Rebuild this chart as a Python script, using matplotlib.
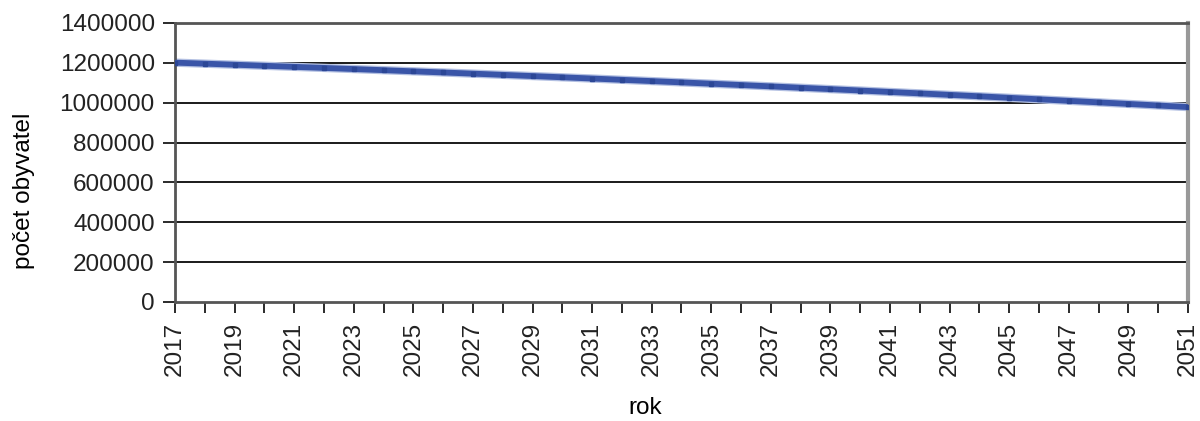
import numpy as np
import matplotlib
matplotlib.use("Agg")
import matplotlib.pyplot as plt
from matplotlib.ticker import MultipleLocator

# population projection
years = list(range(2017, 2052))
population = [
    1201000, 1195900, 1190600, 1185300, 1179900, 1174500, 1168900, 1163200,
    1157500, 1151700, 1145800, 1139800, 1133700, 1127500, 1121300, 1114900,
    1108500, 1102000, 1095400, 1088700, 1081900, 1075000, 1068100, 1061100,
    1053900, 1046700, 1039400, 1032100, 1024600, 1017000, 1009400, 1001700,
    993900, 986000, 978000,
]
y_ticks = [0, 200000, 400000, 600000, 800000, 1000000, 1200000, 1400000]
x_labels = years[::2]

plt.rcParams['font.family'] = ['Liberation Sans', 'DejaVu Sans']
plt.rcParams['font.size'] = 17.5
plt.rcParams['text.color'] = '#222222'

fig = plt.figure(figsize=(12, 4.21), dpi=100)
ax = fig.add_axes([0.1458, 0.2827, 0.8442, 0.6627])

for v in y_ticks[1:-1]:
    ax.axhline(v, color='#1a1a1a', lw=1.4, zorder=1)

# soft halo + main band, like the original dense series
ax.plot(years, population, color='#b3c0e2', lw=6, solid_capstyle='butt', zorder=2)
ax.plot(years, population, color='#3a55a8', lw=4.2, solid_capstyle='butt',
        marker='s', markersize=3, markerfacecolor='#2c4796', markeredgecolor='#2c4796',
        zorder=3)

ax.set_xlim(2017, 2051)
ax.set_ylim(0, 1400000)
ax.set_yticks(y_ticks)
ax.set_yticklabels([str(v) for v in y_ticks])
ax.set_xticks(x_labels)
ax.set_xticklabels([str(y) for y in x_labels], rotation=90)
ax.xaxis.set_minor_locator(MultipleLocator(1))

ax.tick_params(axis='both', which='both', colors='#1a1a1a', labelcolor='#222222',
               width=1.3, length=8.5, pad=6)
ax.tick_params(axis='x', which='both', direction='out', length=8, pad=6)

ax.spines['left'].set_color('#555555')
ax.spines['left'].set_linewidth(2)
ax.spines['bottom'].set_color('#555555')
ax.spines['bottom'].set_linewidth(2)
ax.spines['top'].set_color('#555555')
ax.spines['top'].set_linewidth(2)
ax.spines['right'].set_color('#999999')
ax.spines['right'].set_linewidth(3)

ax.set_xlabel('rok')
ax.set_ylabel('počet obyvatel')
ax.xaxis.set_label_coords(0.464, -0.342)
ax.yaxis.set_label_coords(-0.138, 0.40)

fig.savefig('out.png', dpi=100)
